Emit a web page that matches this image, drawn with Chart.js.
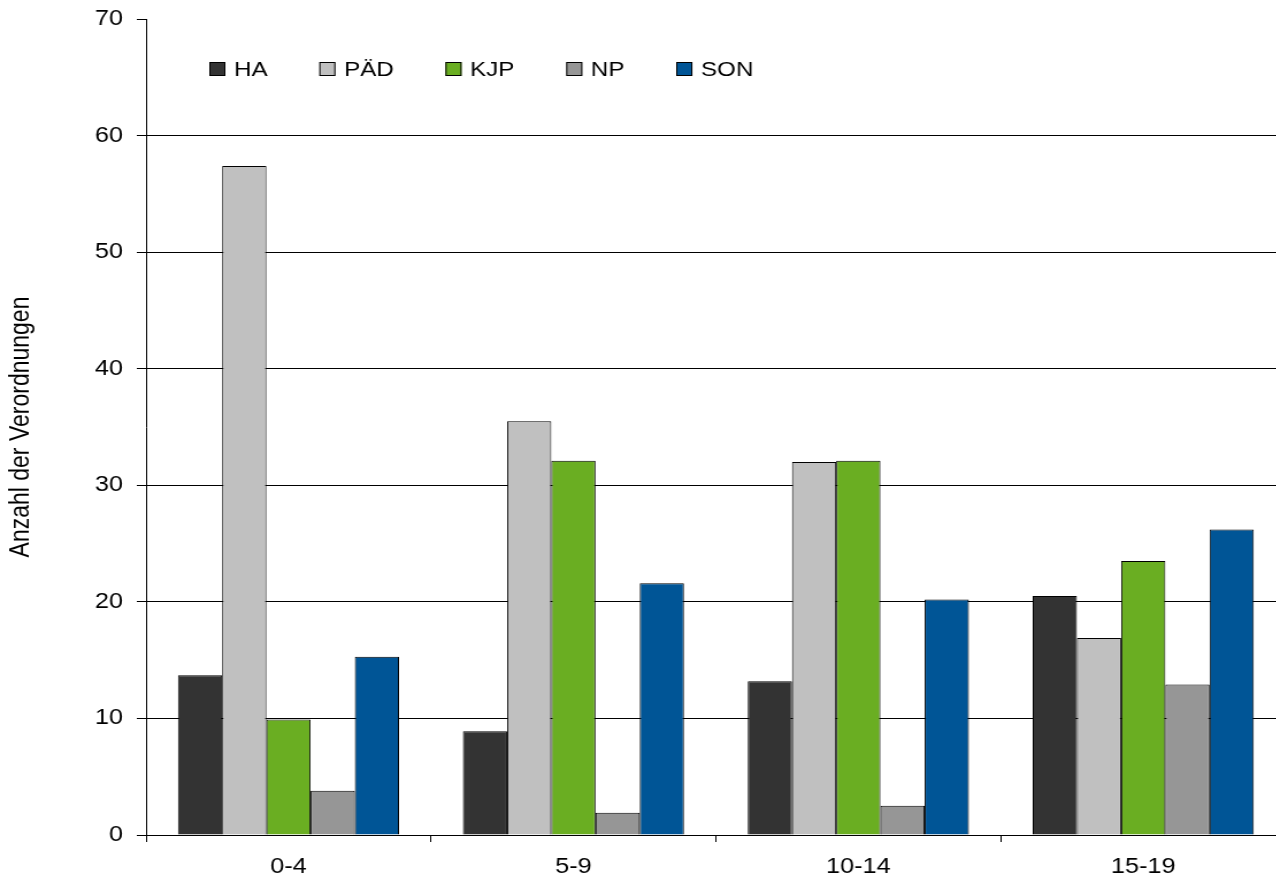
<!DOCTYPE html>
<html>
<head>
<meta charset="utf-8">
<script src="https://cdn.jsdelivr.net/npm/chart.js@4/dist/chart.umd.min.js"></script>
<style>
  body { margin: 0; overflow: hidden; background: #fff; }
  /* the original picture is a bit wider than tall in its glyphs, so stretch horizontally */
  #wrap { width: 1122px; height: 878px; transform: scaleX(1.15); transform-origin: 0 0; }
</style>
</head>
<body>
<div id="wrap"><canvas id="myChart"></canvas></div>
<script>
var ageGroups = ['0-4', '5-9', '10-14', '15-19'];
var seriesNames = ['HA', 'PÄD', 'KJP', 'NP', 'SON'];
var haValues  = [13.7, 8.9, 13.2, 20.5];
var paedValues = [57.4, 35.5, 32.0, 16.9];
var kjpValues = [9.9, 32.1, 32.1, 23.5];
var npValues  = [3.8, 1.9, 2.5, 12.9];
var sonValues = [15.3, 21.6, 20.2, 26.2];
var yTicks = [0, 10, 20, 30, 40, 50, 60, 70];
var colors = ['#333333', '#c0c0c0', '#6aae22', '#969696', '#005596'];

var allValues = [haValues, paedValues, kjpValues, npValues, sonValues];

Chart.defaults.font.family = '"Liberation Sans", Arial, sans-serif';
Chart.defaults.color = '#000';

// legend drawn inside the plot area, like the original
var innerLegend = {
    id: 'innerLegend',
    afterDraw: function(chart) {
        var ctx = chart.ctx;
        var x = 182, y = 69;
        ctx.save();
        ctx.font = '21px "Liberation Sans", Arial, sans-serif';
        ctx.textBaseline = 'middle';
        chart.data.datasets.forEach(function(ds) {
            ctx.fillStyle = ds.backgroundColor;
            ctx.fillRect(x, y - 7, 14, 14);
            ctx.strokeStyle = '#000';
            ctx.lineWidth = 1;
            ctx.strokeRect(x + 0.5, y - 6.5, 13, 13);
            ctx.fillStyle = '#000';
            ctx.fillText(ds.label, x + 21.5, y + 1);
            x += 21.5 + ctx.measureText(ds.label).width + 45;
        });
        ctx.restore();
    }
};

var ctx = document.getElementById('myChart');
var myChart = new Chart(ctx, {
    type: 'bar',
    data: {
        labels: ageGroups,
        datasets: seriesNames.map(function(name, i) {
            return {
                label: name,
                data: allValues[i],
                backgroundColor: colors[i],
                borderColor: '#000',
                borderWidth: 1,
                categoryPercentage: 0.776,
                barPercentage: 1.0
            };
        })
    },
    options: {
        responsive: true,
        maintainAspectRatio: false,
        animation: false,
        layout: { padding: { top: 19, right: 4, left: 0, bottom: 0 } },
        plugins: {
            legend: { display: false },
            tooltip: { enabled: false }
        },
        scales: {
            x: {
                afterFit: function(scale) {
                    scale.height = 43;
                    scale.paddingLeft = 0;
                    scale.paddingRight = 0;
                },
                grid: {
                    drawOnChartArea: false,
                    drawTicks: true,
                    tickLength: 7,
                    tickColor: '#000',
                    color: '#000'
                },
                border: { color: '#000', width: 1 },
                ticks: { font: { size: 22 }, padding: 12, color: '#000' }
            },
            y: {
                min: 0,
                max: 70,
                afterFit: function(scale) {
                    scale.width = 127;
                    scale.paddingTop = 0;
                    scale.paddingBottom = 0;
                },
                afterBuildTicks: function(scale) {
                    scale.ticks = yTicks.map(function(v) { return { value: v }; });
                },
                grid: {
                    color: function(c) { return c.tick && c.tick.value === 70 ? 'rgba(0,0,0,0)' : '#000'; },
                    lineWidth: 1,
                    tickLength: 8,
                    tickColor: '#000'
                },
                border: { color: '#000', width: 1 },
                ticks: { font: { size: 22 }, padding: 12, color: '#000' },
                title: {
                    display: true,
                    text: 'Anzahl der Verordnungen',
                    font: { size: 23 },
                    color: '#000',
                    padding: { top: 5, bottom: 0 }
                }
            }
        }
    },
    plugins: [innerLegend]
});
</script>
</body>
</html>
